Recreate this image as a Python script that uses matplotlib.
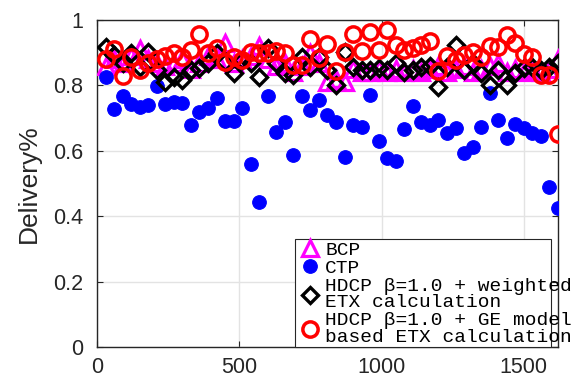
import matplotlib
matplotlib.use("Agg")
import matplotlib.pyplot as plt
from matplotlib.patches import Rectangle
from matplotlib.ticker import FixedLocator, FixedFormatter

# ---- data ----
x_vals = [30 * i for i in range(1, 55)]

bcp = [0.86, 0.88, 0.87, 0.89, 0.91, 0.88, 0.87, 0.86, 0.87, 0.88,
       0.85, 0.87, 0.89, 0.88, 0.93, 0.87, 0.88, 0.89, 0.92, 0.88,
       0.86, 0.87, 0.84, 0.86, 0.90, 0.87, 0.81, 0.82, 0.81, 0.85,
       0.84, 0.84, 0.85, 0.84, 0.85, 0.84, 0.85, 0.84, 0.85, 0.86,
       0.84, 0.85, 0.86, 0.84, 0.85, 0.86, 0.87, 0.84, 0.85, 0.84,
       0.85, 0.84, 0.85, 0.88]

ctp = [0.826, 0.728, 0.768, 0.743, 0.734, 0.740, 0.798, 0.743, 0.749, 0.746,
       0.679, 0.719, 0.731, 0.761, 0.691, 0.691, 0.731, 0.560, 0.443, 0.768,
       0.657, 0.688, 0.587, 0.768, 0.725, 0.755, 0.709, 0.688, 0.581, 0.679,
       0.673, 0.771, 0.630, 0.578, 0.569, 0.667, 0.737, 0.688, 0.679, 0.694,
       0.654, 0.670, 0.593, 0.612, 0.673, 0.777, 0.694, 0.639, 0.682, 0.670,
       0.654, 0.645, 0.489, 0.425]

hdcp_weighted = [0.917, 0.893, 0.869, 0.899, 0.856, 0.902, 0.847, 0.810, 0.826, 0.816,
                 0.847, 0.853, 0.869, 0.899, 0.872, 0.838, 0.878, 0.870, 0.826, 0.914,
                 0.870, 0.838, 0.832, 0.887, 0.856, 0.887, 0.847, 0.801, 0.902, 0.856,
                 0.847, 0.847, 0.853, 0.847, 0.869, 0.841, 0.847, 0.856, 0.860, 0.795,
                 0.856, 0.924, 0.847, 0.870, 0.838, 0.801, 0.847, 0.801, 0.838, 0.853,
                 0.856, 0.847, 0.856, 0.869]

hdcp_ge = [0.881, 0.911, 0.829, 0.887, 0.847, 0.869, 0.881, 0.890, 0.899, 0.887,
           0.908, 0.957, 0.899, 0.914, 0.872, 0.887, 0.878, 0.902, 0.899, 0.899,
           0.905, 0.899, 0.862, 0.862, 0.942, 0.884, 0.927, 0.844, 0.902, 0.957,
           0.905, 0.963, 0.908, 0.969, 0.924, 0.908, 0.914, 0.924, 0.936, 0.844,
           0.890, 0.878, 0.893, 0.902, 0.887, 0.920, 0.917, 0.954, 0.930, 0.896,
           0.887, 0.832, 0.832, 0.651]

labels = ["BCP", "CTP",
          "HDCP β=1.0 + weighted\nETX calculation",
          "HDCP β=1.0 + GE model\nbased ETX calculation"]

x_ticks = [0, 500, 1000, 1500]
x_tick_labels = ["0", "500", "1000", "1500"]
y_ticks = [0, 0.2, 0.4, 0.6, 0.8, 1.0]
y_tick_labels = ["0", "0.2", "0.4", "0.6", "0.8", "1"]

# ---- figure ----
W, H = 581, 377
fig = plt.figure(figsize=(W / 100, H / 100), dpi=100)
L, R, T, B = 97, 558, 20, 347
ax = fig.add_axes([L / W, 1 - B / H, (R - L) / W, (B - T) / H])

ax.plot(x_vals, bcp, linestyle="none", marker="^", markersize=11,
        markerfacecolor="none", markeredgecolor="#ff00ff", markeredgewidth=2.3,
        label=labels[0], zorder=3)
ax.plot(x_vals, ctp, linestyle="none", marker="o", markersize=9.8,
        markerfacecolor="#0000ff", markeredgecolor="#0000ff", markeredgewidth=0.8,
        label=labels[1], zorder=3)
ax.plot(x_vals, hdcp_weighted, linestyle="none", marker="D", markersize=8.5,
        markerfacecolor="none", markeredgecolor="black", markeredgewidth=2.4,
        label=labels[2], zorder=3)
ax.plot(x_vals, hdcp_ge, linestyle="none", marker="o", markersize=11,
        markerfacecolor="none", markeredgecolor="#ff0000", markeredgewidth=2.5,
        label=labels[3], zorder=3)

ax.set_xlim(0, 1620)
ax.set_ylim(0, 1)
ax.xaxis.set_major_locator(FixedLocator(x_ticks))
ax.xaxis.set_major_formatter(FixedFormatter(x_tick_labels))
ax.yaxis.set_major_locator(FixedLocator(y_ticks))
ax.yaxis.set_major_formatter(FixedFormatter(y_tick_labels))

ax.grid(True, color="#e3e3e3", linewidth=1.0, zorder=0)
ax.set_axisbelow(True)
for s in ax.spines.values():
    s.set_color("#262626")
    s.set_linewidth(1.0)
ax.tick_params(direction="in", length=4, width=0.8, colors="#262626",
               top=True, right=True, labelsize=15.5)
ax.tick_params(axis="y", pad=10)
ax.tick_params(axis="x", pad=7)
for lab in ax.get_xticklabels() + ax.get_yticklabels():
    lab.set_fontfamily("Liberation Sans")
ax.set_ylabel("Delivery%", fontsize=19, fontfamily="Liberation Sans",
              color="#262626", labelpad=9)

# legend box (MATLAB-style, text overflows the box)
bx0, by0, bx1, by1 = 295, 239, 551, 347
box = Rectangle(((bx0 - L) / (R - L), (B - by1) / (B - T)),
                (bx1 - bx0) / (R - L), (by1 - by0) / (B - T),
                transform=ax.transAxes, facecolor="white", edgecolor="#262626",
                linewidth=0.8, clip_on=False, zorder=4)
ax.add_patch(box)

leg = ax.legend(loc="upper left",
                bbox_to_anchor=((bx0 + 5 - L) / (R - L), (B - by0 - 1) / (B - T)),
                frameon=False, prop={"family": "Liberation Mono", "size": 14},
                handlelength=0.9, handletextpad=0.35, labelspacing=0.05,
                borderpad=0.05, borderaxespad=0.0)
for t in leg.get_texts():
    t.set_linespacing(0.95)
leg.set_zorder(5)

fig.savefig("out.png", dpi=100)
